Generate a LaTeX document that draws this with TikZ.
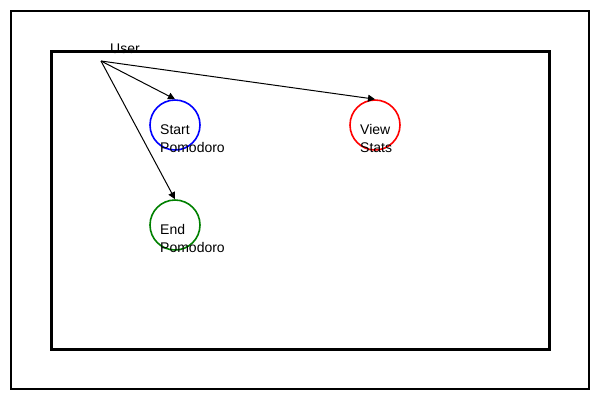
\documentclass[tikz,border=0pt]{standalone}
\usepackage{fontspec}
\setmainfont{Liberation Sans}
\usetikzlibrary{arrows.meta}
\definecolor{dgreen}{RGB}{0,128,0}
\begin{document}
\begin{tikzpicture}[x=1pt,y=-1pt,
  uc/.style={circle,draw=#1,line width=1.6pt,minimum size=50pt,inner sep=0pt},
  lbl/.style={anchor=base west,font=\fontsize{14}{17}\selectfont,inner sep=0pt},
  conn/.style={line width=1pt,-{Triangle[length=7pt,width=7pt]}}]
\useasboundingbox (0,0) rectangle (600,400);
\draw[line width=2pt] (11,11) rectangle (589,389);
\draw[line width=3pt] (51,51) rectangle (549,349);
\node[uc=blue] (start) at (175,125) {};
\node[uc=red] (view) at (375,125) {};
\node[uc=dgreen] (end) at (175,225) {};
\node[lbl] (ulbl) at (110,53) {User};
\coordinate (user) at (101,61);
\node[lbl] (s1) at (160,134) {Start};
\node[lbl] (s2) at (160,152) {Pomodoro};
\node[lbl] (v1) at (360,134) {View};
\node[lbl] (v2) at (360,152) {Stats};
\node[lbl] (e1) at (160,234) {End};
\node[lbl] (e2) at (160,252) {Pomodoro};
\draw[conn] (user) -- (start.north);
\draw[conn] (user) -- (view.north);
\draw[conn] (user) -- (end.north);
\end{tikzpicture}
\end{document}
